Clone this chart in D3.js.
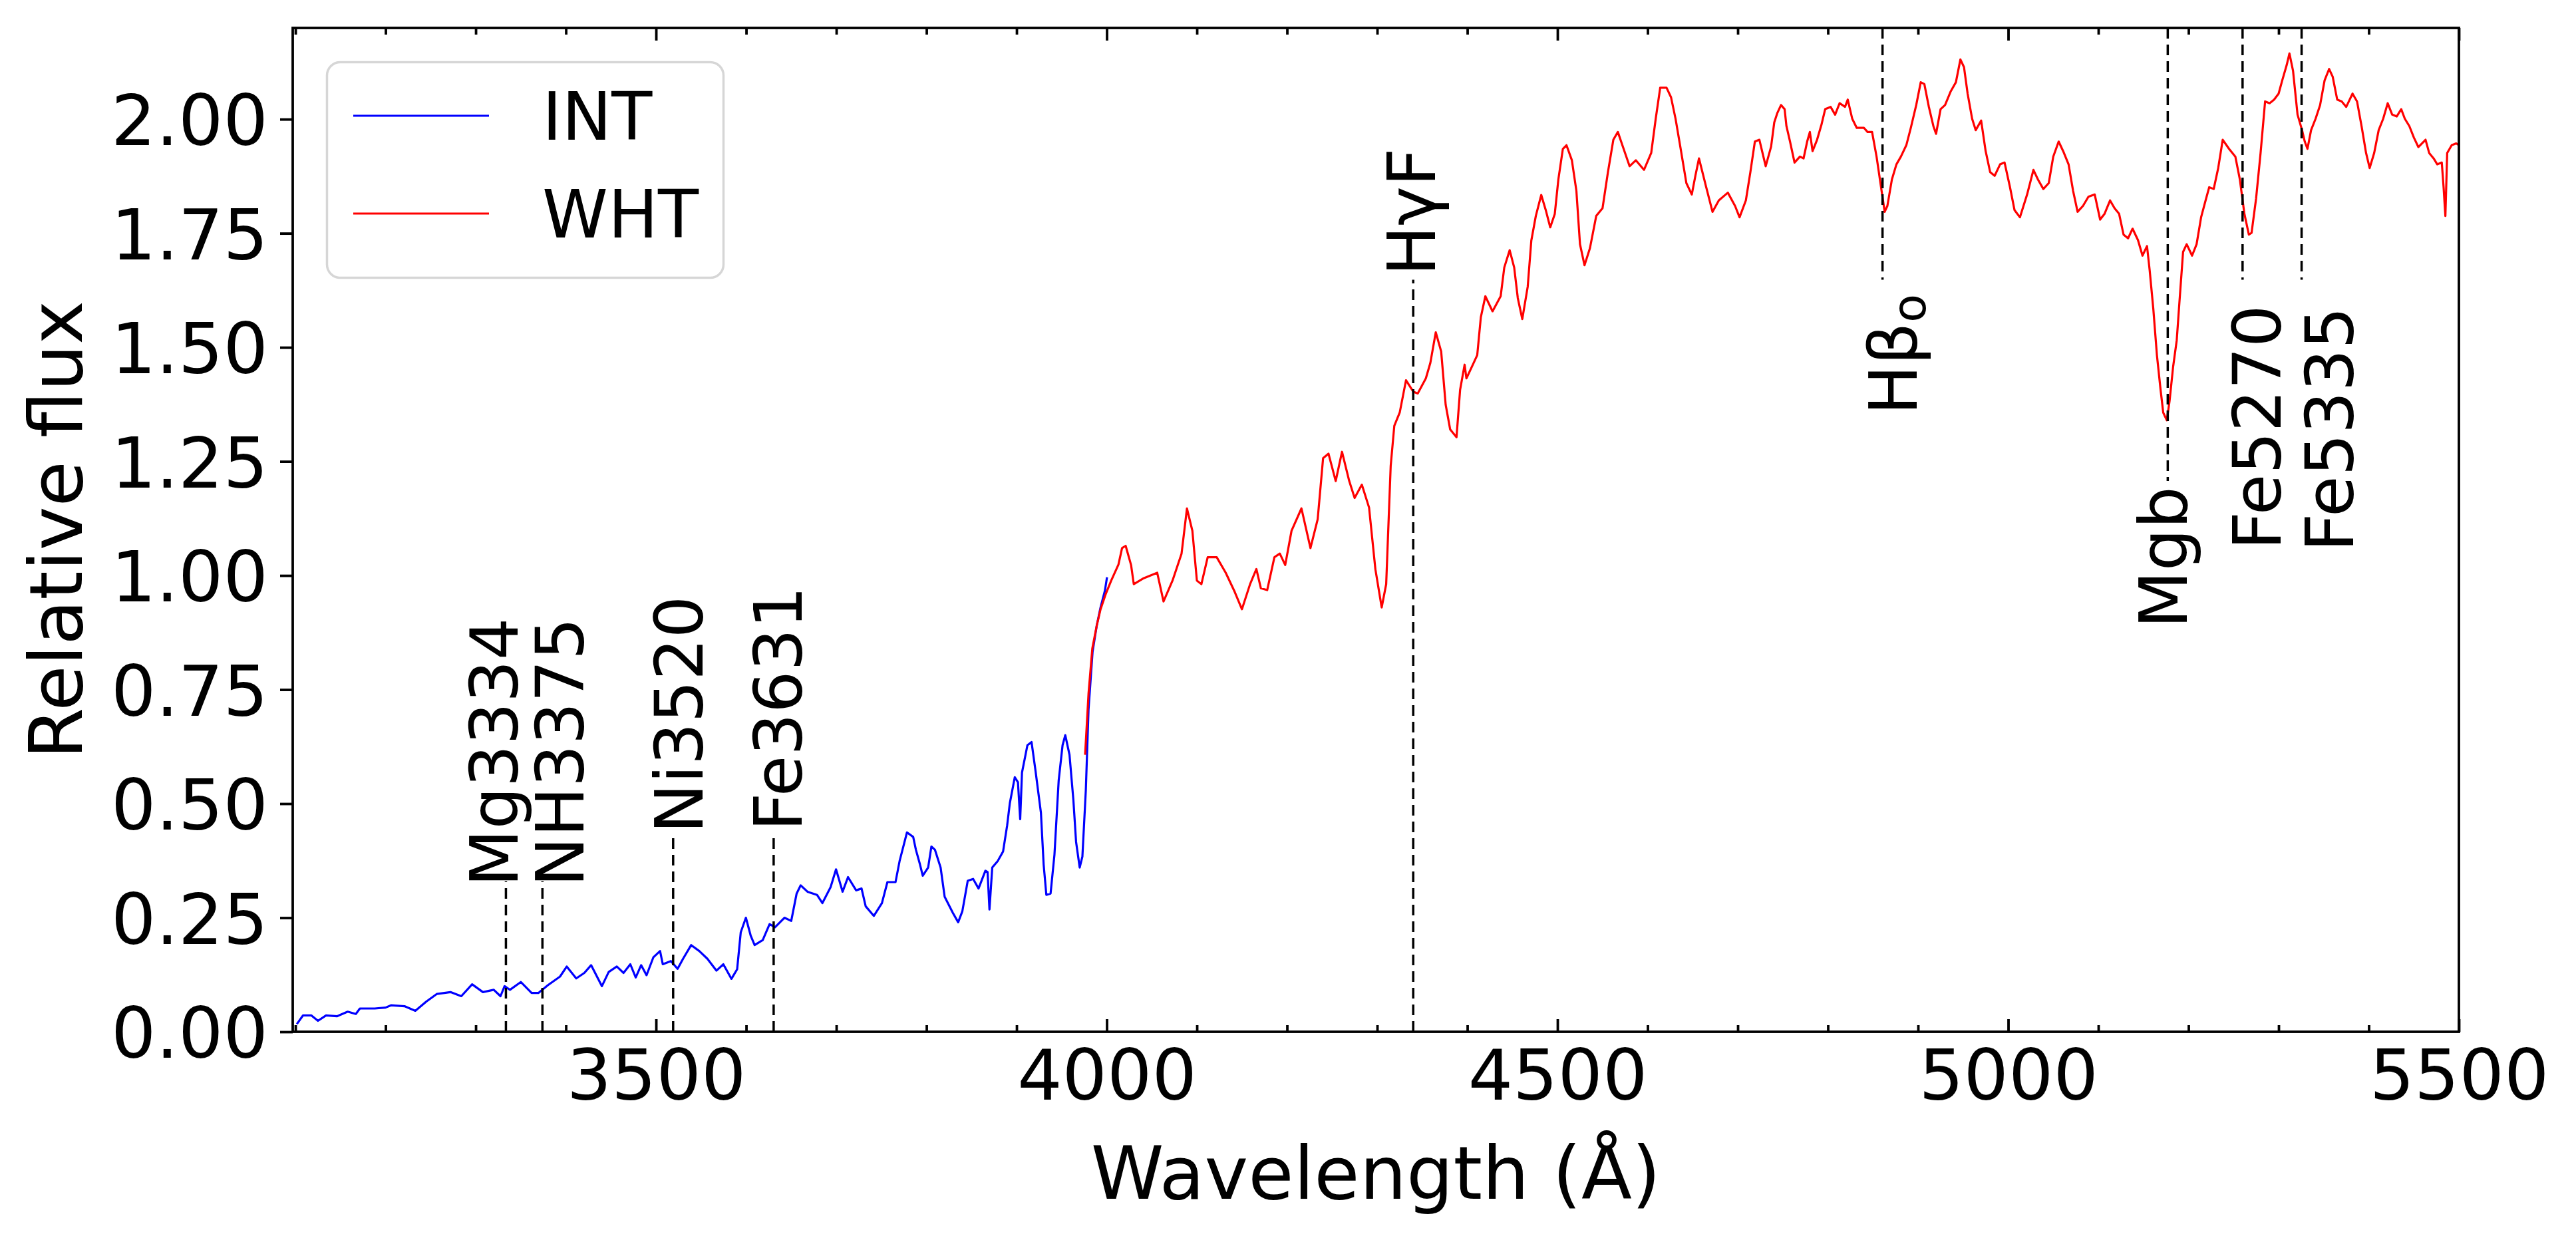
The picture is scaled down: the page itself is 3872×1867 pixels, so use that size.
<!DOCTYPE html>
<html>
<head>
<meta charset="utf-8">
<script src="https://cdn.jsdelivr.net/npm/d3@7"></script>
<style>
  body { margin: 0; background: #fff; }
  svg { display: block; }
  text { font-family: "DejaVu Sans", sans-serif; fill: #000; }
</style>
</head>
<body>
<svg id="chart"></svg>
<script>
// INT spectrum (blue)
const intWave = [3101.6, 3108.5, 3117.5, 3125, 3134, 3146, 3158, 3167, 3171.5, 3188, 3200, 3206, 3221, 3233, 3245, 3257, 3272, 3284, 3296, 3308, 3320, 3327.5, 3332, 3338, 3350, 3362, 3369.5, 3380, 3393.5, 3401, 3411.5, 3420.5, 3428, 3440, 3447.5, 3456.5, 3464, 3471.5, 3477.5, 3483.5, 3489.5, 3497, 3504.5, 3507.5, 3516.5, 3524, 3530, 3539, 3548, 3557, 3567, 3574.7, 3583.7, 3590, 3594, 3599.7, 3605, 3609.4, 3618.4, 3626, 3632, 3642.5, 3650, 3656, 3660.5, 3668, 3678.6, 3684.6, 3693.7, 3699.7, 3707, 3713, 3722, 3728, 3732.6, 3741.6, 3750.6, 3756.7, 3765.7, 3770.2, 3778.4, 3785.3, 3788.3, 3792.8, 3795.9, 3801.9, 3805.5, 3809.4, 3815.7, 3820.2, 3829.2, 3835.2, 3839.8, 3845.8, 3851.8, 3857.8, 3865.4, 3867.8, 3869.9, 3873, 3879, 3885, 3889.5, 3892.5, 3898, 3901.5, 3904, 3906, 3912, 3916.6, 3921, 3927, 3930, 3933, 3937.7, 3942, 3946.7, 3951, 3954, 3958.7, 3963, 3966, 3970, 3973, 3976.8, 3979.8, 3984.3, 3988.9, 3993, 3998, 4000.3];
const intFlux = [0.017, 0.036, 0.036, 0.024, 0.036, 0.034, 0.044, 0.039, 0.051, 0.051, 0.053, 0.058, 0.056, 0.046, 0.066, 0.083, 0.087, 0.078, 0.104, 0.087, 0.092, 0.078, 0.100, 0.092, 0.109, 0.085, 0.085, 0.102, 0.121, 0.143, 0.117, 0.129, 0.146, 0.100, 0.131, 0.143, 0.129, 0.148, 0.119, 0.146, 0.124, 0.163, 0.177, 0.148, 0.155, 0.138, 0.160, 0.190, 0.177, 0.160, 0.134, 0.148, 0.116, 0.137, 0.218, 0.250, 0.211, 0.190, 0.201, 0.236, 0.229, 0.250, 0.243, 0.303, 0.321, 0.307, 0.300, 0.282, 0.317, 0.356, 0.307, 0.339, 0.310, 0.314, 0.275, 0.254, 0.282, 0.328, 0.328, 0.374, 0.437, 0.427, 0.399, 0.367, 0.342, 0.360, 0.406, 0.399, 0.360, 0.296, 0.261, 0.240, 0.264, 0.331, 0.335, 0.314, 0.353, 0.350, 0.268, 0.360, 0.374, 0.395, 0.452, 0.501, 0.558, 0.547, 0.466, 0.568, 0.628, 0.635, 0.572, 0.480, 0.367, 0.300, 0.303, 0.388, 0.551, 0.628, 0.650, 0.607, 0.508, 0.416, 0.360, 0.384, 0.529, 0.706, 0.833, 0.890, 0.929, 0.967, 0.996];

// WHT spectrum (red)
const whtWave = [3976, 3979.8, 3984, 3989, 3993, 3999, 4005, 4013, 4017, 4021, 4027, 4030, 4041, 4056, 4063, 4073, 4083, 4089, 4095, 4100, 4105, 4112, 4122, 4132, 4142, 4150, 4159, 4166, 4171, 4178, 4186, 4192, 4198, 4205, 4216, 4226, 4234, 4240, 4246, 4254, 4261, 4269, 4275, 4283, 4291, 4298, 4305, 4310, 4315, 4319, 4325, 4332, 4340, 4345, 4354, 4359, 4365, 4371, 4376, 4381, 4388, 4392, 4397, 4399, 4404, 4411, 4415, 4420, 4428, 4437, 4441, 4447, 4452, 4456, 4461, 4467, 4471, 4476, 4482, 4487, 4492, 4497, 4501, 4506, 4510, 4516, 4521, 4525, 4530, 4536, 4543, 4550, 4556, 4562, 4567, 4572, 4580, 4587, 4596, 4604, 4609, 4614, 4621, 4626, 4631, 4636, 4643, 4649, 4653, 4657, 4665, 4672, 4679, 4689, 4697, 4702, 4709, 4714, 4719, 4724, 4731, 4737, 4740.5, 4744, 4748, 4752, 4754, 4758, 4763, 4769, 4773, 4777, 4780, 4783, 4788, 4793, 4797, 4803, 4808, 4813, 4819, 4822, 4827, 4832, 4840, 4844, 4849, 4854, 4858, 4863, 4866, 4871, 4876, 4881, 4887, 4892, 4898, 4903, 4907, 4912, 4917, 4920, 4925, 4930, 4936, 4942, 4947, 4951, 4955, 4960, 4964, 4970, 4975, 4980, 4985, 4991, 4996, 5002, 5007, 5013, 5021, 5028, 5033, 5039, 5045, 5050, 5056, 5061, 5067, 5072, 5077, 5083, 5089, 5096, 5102, 5107, 5113, 5118, 5123, 5128, 5133, 5138, 5144, 5149, 5154, 5157, 5161, 5165, 5169, 5172, 5176, 5179, 5183, 5187, 5190, 5194, 5198, 5204, 5209, 5214, 5219, 5223, 5228, 5233, 5238, 5245, 5252, 5257, 5262, 5267, 5270, 5275, 5280, 5285, 5290, 5295, 5300, 5304, 5309, 5312, 5316, 5321, 5326, 5329, 5332, 5336, 5341, 5346, 5351, 5356, 5360, 5365, 5370, 5375, 5382, 5387, 5392, 5397, 5401, 5406, 5411, 5416, 5421, 5426, 5431, 5436, 5440, 5445, 5450, 5455, 5463, 5467, 5472, 5476, 5481, 5483, 5485, 5487, 5492, 5497, 5500];
const whtFlux = [0.607, 0.741, 0.840, 0.891, 0.925, 0.960, 0.989, 1.024, 1.060, 1.065, 1.023, 0.981, 0.994, 1.006, 0.943, 0.989, 1.048, 1.147, 1.098, 0.989, 0.981, 1.040, 1.040, 1.006, 0.964, 0.926, 0.981, 1.014, 0.972, 0.968, 1.040, 1.048, 1.023, 1.098, 1.147, 1.060, 1.123, 1.257, 1.267, 1.207, 1.271, 1.207, 1.170, 1.199, 1.149, 1.014, 0.930, 0.981, 1.240, 1.328, 1.357, 1.428, 1.403, 1.399, 1.432, 1.466, 1.533, 1.491, 1.374, 1.320, 1.303, 1.407, 1.462, 1.432, 1.453, 1.483, 1.566, 1.612, 1.579, 1.612, 1.675, 1.713, 1.675, 1.608, 1.562, 1.633, 1.734, 1.788, 1.834, 1.801, 1.763, 1.792, 1.868, 1.935, 1.943, 1.910, 1.843, 1.726, 1.680, 1.717, 1.788, 1.805, 1.884, 1.955, 1.972, 1.943, 1.897, 1.910, 1.889, 1.926, 2.001, 2.069, 2.069, 2.048, 2.001, 1.943, 1.860, 1.835, 1.876, 1.914, 1.851, 1.797, 1.822, 1.839, 1.810, 1.785, 1.822, 1.884, 1.951, 1.955, 1.897, 1.940, 1.993, 2.014, 2.031, 2.022, 1.985, 1.951, 1.905, 1.918, 1.914, 1.951, 1.972, 1.930, 1.955, 1.989, 2.022, 2.027, 2.010, 2.035, 2.027, 2.043, 2.001, 1.981, 1.981, 1.972, 1.972, 1.918, 1.864, 1.797, 1.810, 1.868, 1.901, 1.918, 1.943, 1.981, 2.031, 2.081, 2.077, 2.027, 1.985, 1.968, 2.022, 2.031, 2.060, 2.081, 2.131, 2.114, 2.056, 2.001, 1.976, 1.997, 1.930, 1.884, 1.876, 1.901, 1.905, 1.851, 1.801, 1.785, 1.835, 1.889, 1.868, 1.847, 1.860, 1.918, 1.951, 1.930, 1.901, 1.843, 1.797, 1.810, 1.830, 1.835, 1.780, 1.793, 1.822, 1.805, 1.793, 1.747, 1.739, 1.760, 1.735, 1.701, 1.722, 1.668, 1.584, 1.483, 1.408, 1.357, 1.340, 1.382, 1.458, 1.516, 1.600, 1.709, 1.726, 1.701, 1.726, 1.785, 1.822, 1.851, 1.847, 1.893, 1.955, 1.935, 1.918, 1.868, 1.793, 1.747, 1.751, 1.826, 1.926, 2.039, 2.035, 2.043, 2.056, 2.085, 2.119, 2.144, 2.106, 2.010, 1.976, 1.951, 1.935, 1.976, 2.001, 2.031, 2.085, 2.110, 2.093, 2.043, 2.039, 2.027, 2.056, 2.039, 1.985, 1.926, 1.893, 1.926, 1.976, 2.001, 2.035, 2.010, 2.006, 2.022, 2.001, 1.985, 1.960, 1.939, 1.955, 1.926, 1.914, 1.901, 1.905, 1.851, 1.788, 1.926, 1.943, 1.947, 1.943];

// marked features: line position, label position (both in Angstrom), line end and label anchor (flux)
const featureNames = ["Mg3334", "NH3375", "Ni3520", "Fe3631", "HγF", "Hβo", "Mgb", "Fe5270", "Fe5335"];
const featureWave = [3333.5, 3374, 3519, 3630.5, 4340, 4860.6, 5177, 5260, 5325.5];
const featureLabelWave = [3319.4, 3392.8, 3524.6, 3634.6, 4337, 4871.6, 5171, 5275, 5356];
const featureSide = ["low", "low", "low", "low", "low", "high", "high", "high", "high"];
const featureLineEnd = [0.330, 0.330, 0.433, 0.433, 1.648, 1.648, 1.207, 1.648, 1.648];
const featureTextY = [0.318, 0.318, 0.435, 0.440, 1.657, 1.617, 1.195, 1.593, 1.589];

const xMajor = [3500, 4000, 4500, 5000, 5500];
const yTicks = [0, 0.25, 0.5, 0.75, 1.0, 1.25, 1.5, 1.75, 2.0];
const seriesNames = ["INT", "WHT"];
const seriesColors = ["#0000ff", "#ff0000"];

const width = 3872, height = 1867;
const plot = { left: 440, right: 3696, top: 42, bottom: 1551 };

const svg = d3.select("#chart")
    .attr("width", width)
    .attr("height", height);

svg.append("rect").attr("width", width).attr("height", height).attr("fill", "#fff");

const x = d3.scaleLinear().domain([3097, 5500]).range([plot.left, plot.right]);
const y = d3.scaleLinear().domain([0, 2.2]).range([plot.bottom, plot.top]);

svg.append("clipPath").attr("id", "plotclip")
    .append("rect")
    .attr("x", plot.left).attr("y", plot.top)
    .attr("width", plot.right - plot.left).attr("height", plot.bottom - plot.top);

const line = d3.line().x(d => x(d[0])).y(d => y(d[1]));

// spectra
const spectra = [d3.zip(intWave, intFlux), d3.zip(whtWave, whtFlux)];
svg.append("g").attr("clip-path", "url(#plotclip)")
    .selectAll("path")
    .data(spectra)
    .join("path")
    .attr("d", line)
    .attr("fill", "none")
    .attr("stroke", (d, i) => seriesColors[i])
    .attr("stroke-width", 3.2)
    .attr("stroke-linejoin", "round");

// feature markers
const features = featureNames.map((name, i) => ({
    name, wave: featureWave[i], labelWave: featureLabelWave[i],
    side: featureSide[i], end: featureLineEnd[i], ty: featureTextY[i]
}));

svg.append("g")
    .selectAll("line")
    .data(features)
    .join("line")
    .attr("x1", d => x(d.wave)).attr("x2", d => x(d.wave))
    .attr("y1", d => d.side === "low" ? y(0) : y(2.2))
    .attr("y2", d => y(d.end))
    .attr("stroke", "#000")
    .attr("stroke-width", 3.5)
    .attr("stroke-dasharray", "16,9");

const labels = svg.append("g")
    .selectAll("text")
    .data(features)
    .join("text")
    .attr("transform", d => `translate(${x(d.labelWave)},${y(d.ty)}) rotate(-90)`)
    .attr("text-anchor", d => d.side === "low" ? "start" : "end")
    .attr("dy", "0.365em")
    .attr("font-size", 100);

labels.each(function (d) {
    const t = d3.select(this);
    if (d.name === "Hβo") {
        t.append("tspan").text("Hβ");
        t.append("tspan").attr("font-size", 70).attr("dy", 13).text("o");
    } else {
        t.text(d.name);
    }
});

// axes
const minorTicks = x.ticks(24).filter(v => !xMajor.includes(v));

svg.append("g")
    .attr("transform", `translate(0,${plot.bottom})`)
    .call(d3.axisBottom(x).tickValues(xMajor).tickFormat(d3.format("d"))
        .tickSizeInner(-19).tickSizeOuter(0).tickPadding(27))
    .call(g => g.selectAll("text").attr("font-size", 106).attr("font-family", "DejaVu Sans"));

svg.append("g")
    .attr("transform", `translate(0,${plot.bottom})`)
    .call(d3.axisBottom(x).tickValues(minorTicks).tickSizeInner(-10).tickSizeOuter(0).tickFormat(""));

svg.append("g")
    .attr("transform", `translate(0,${plot.top})`)
    .call(d3.axisTop(x).tickValues(xMajor).tickSizeInner(-19).tickSizeOuter(0).tickFormat(""));

svg.append("g")
    .attr("transform", `translate(0,${plot.top})`)
    .call(d3.axisTop(x).tickValues(minorTicks).tickSizeInner(-10).tickSizeOuter(0).tickFormat(""));

svg.append("g")
    .attr("transform", `translate(${plot.left},0)`)
    .call(d3.axisLeft(y).tickValues(yTicks).tickFormat(d3.format(".2f")).tickSizeInner(19).tickSizeOuter(0).tickPadding(18))
    .call(g => g.selectAll("text").attr("font-size", 106).attr("font-family", "DejaVu Sans").attr("dy", "0.365em"));

svg.selectAll(".domain").remove();
svg.selectAll(".tick line").attr("stroke", "#000").attr("stroke-width", 3.8);

// frame
svg.append("rect")
    .attr("x", plot.left).attr("y", plot.top)
    .attr("width", plot.right - plot.left).attr("height", plot.bottom - plot.top)
    .attr("fill", "none").attr("stroke", "#000").attr("stroke-width", 3.8);

// axis labels
svg.append("text")
    .attr("x", (plot.left + plot.right) / 2)
    .attr("y", 1802)
    .attr("text-anchor", "middle")
    .attr("font-size", 111)
    .text("Wavelength (Å)");

svg.append("text")
    .attr("transform", `translate(123,${(plot.top + plot.bottom) / 2}) rotate(-90)`)
    .attr("text-anchor", "middle")
    .attr("font-size", 111)
    .text("Relative flux");

// legend
const legend = svg.append("g").attr("transform", "translate(490,92)");
legend.append("rect")
    .attr("x", 1.5).attr("y", 1.5)
    .attr("width", 596).attr("height", 324)
    .attr("rx", 20)
    .attr("fill", "#fff").attr("fill-opacity", 0.8)
    .attr("stroke", "#d6d6d6").attr("stroke-width", 3.5);

const rows = legend.selectAll("g.item")
    .data(seriesNames)
    .join("g")
    .attr("class", "item")
    .attr("transform", (d, i) => `translate(0,${82 + i * 147})`);

rows.append("line")
    .attr("x1", 41).attr("x2", 245)
    .attr("stroke", (d, i) => seriesColors[i])
    .attr("stroke-width", 3.2);

rows.append("text")
    .attr("x", 325)
    .attr("dy", "0.36em")
    .attr("font-size", 100)
    .text(d => d);
</script>
</body>
</html>
